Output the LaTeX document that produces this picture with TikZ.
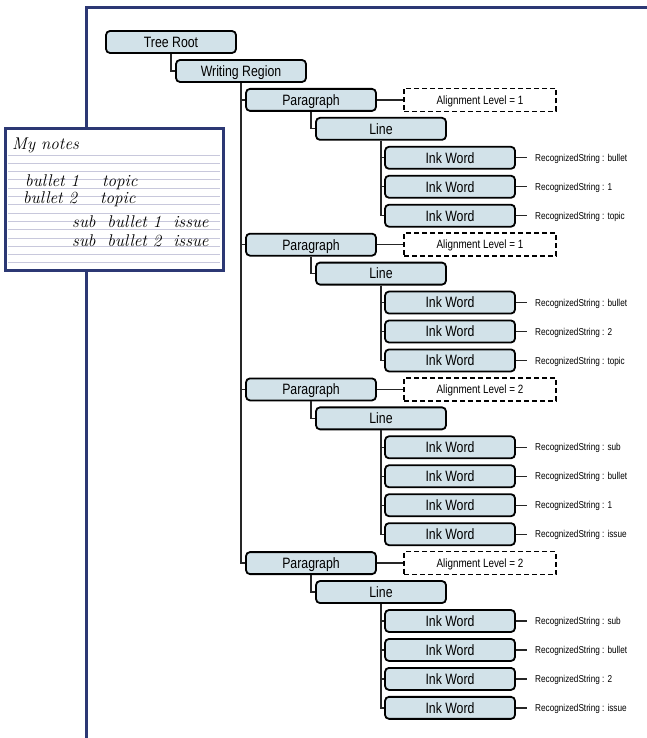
\documentclass[tikz,border=0pt]{standalone}
\usepackage{fontspec}
\newfontfamily\boxfont[FakeStretch=0.82]{Liberation Sans}
\definecolor{boxblue}{RGB}{210,226,233}
\definecolor{framenavy}{RGB}{44,56,116}
\definecolor{rulegray}{RGB}{200,200,220}
\newcommand*{\fs}[1]{\boxfont\fontsize{#1}{#1}\selectfont}
\tikzset{
  treebox/.style={draw, line width=1.8pt, rounded corners=4pt, fill=boxblue,
    minimum width=130pt, minimum height=22pt, inner sep=0pt,
    text height=10.7pt, text depth=0pt, text=black, font=\fs{15}},
  alignbox/.style={draw, line width=1.5pt, dash pattern=on 5pt off 3pt, fill=white,
    minimum width=152pt, minimum height=23pt, inner sep=0pt,
    text height=8.6pt, text depth=0pt, text=black, font=\fs{12}},
  recog/.style={anchor=west, inner xsep=8pt, inner ysep=0pt,
    text height=7.2pt, text depth=0pt, text=black, font=\fs{10}},
  link/.style={line width=1.3pt, draw=black!85},
  frameline/.style={draw=framenavy, line width=3pt},
  ruled/.style={draw=rulegray, line width=0.9pt},
  hand/.style={anchor=base west, inner sep=0pt, text=black,
    font=\itshape\fontsize{17}{17}\selectfont}
}

\begin{document}
\begin{tikzpicture}[x=1pt,y=-1pt]
\useasboundingbox (0,0) rectangle (647,738);
\draw[frameline] (86,738) -- (86,8) -- (647,8);
\node[treebox] (TR) at (171,42) {Tree Root};
\node[treebox] (WR) at (241,71) {Writing Region};
\draw[link] (TR.south) |- (WR.west);
\foreach \p/\r/\lev/\ws in {1/2/1/{bullet,1,topic},2/7/1/{bullet,2,topic},
    3/12/2/{sub,bullet,1,issue},4/18/2/{sub,bullet,2,issue}} {
  \pgfmathsetmacro{\py}{42+28.95*\r}
  \pgfmathsetmacro{\ly}{\py+28.95}
  \node[treebox] (P\p) at (311,\py) {Paragraph};
  \node[alignbox] (A\p) at (480,\py) {Alignment Level = \lev};
  \node[treebox] (L\p) at (381,\ly) {Line};
  \draw[link] (WR.south) |- (P\p.west);
  \draw[link] (P\p.east) -- (A\p.west);
  \draw[link] (P\p.south) |- (L\p.west);
  \foreach \w [count=\i] in \ws {
    \pgfmathsetmacro{\wy}{\ly+28.95*\i}
    \node[treebox] (W\p-\i) at (450,\wy) {Ink Word};
    \node[recog] (R\p-\i) at (527,\wy) {RecognizedString : \w};
    \draw[link] (L\p.south) |- (W\p-\i.west);
    \draw[link] (W\p-\i.east) -- (R\p-\i.west);
  }
}
\draw[frameline, fill=white] (5,129) rectangle (223,270);
\foreach \y in {155,163.3,...,265}
  \draw[ruled] (8,\y) -- (220,\y);
\node[hand] (N0) at (12,150) {My notes};
\node[hand] (N1) at (25,186) {bullet 1 \quad topic};
\node[hand] (N2) at (23,203) {bullet 2 \quad topic};
\node[hand] (N3) at (72,227) {sub \ bullet 1 \ issue};
\node[hand] (N4) at (72,246) {sub \ bullet 2 \ issue};
\end{tikzpicture}
\end{document}
